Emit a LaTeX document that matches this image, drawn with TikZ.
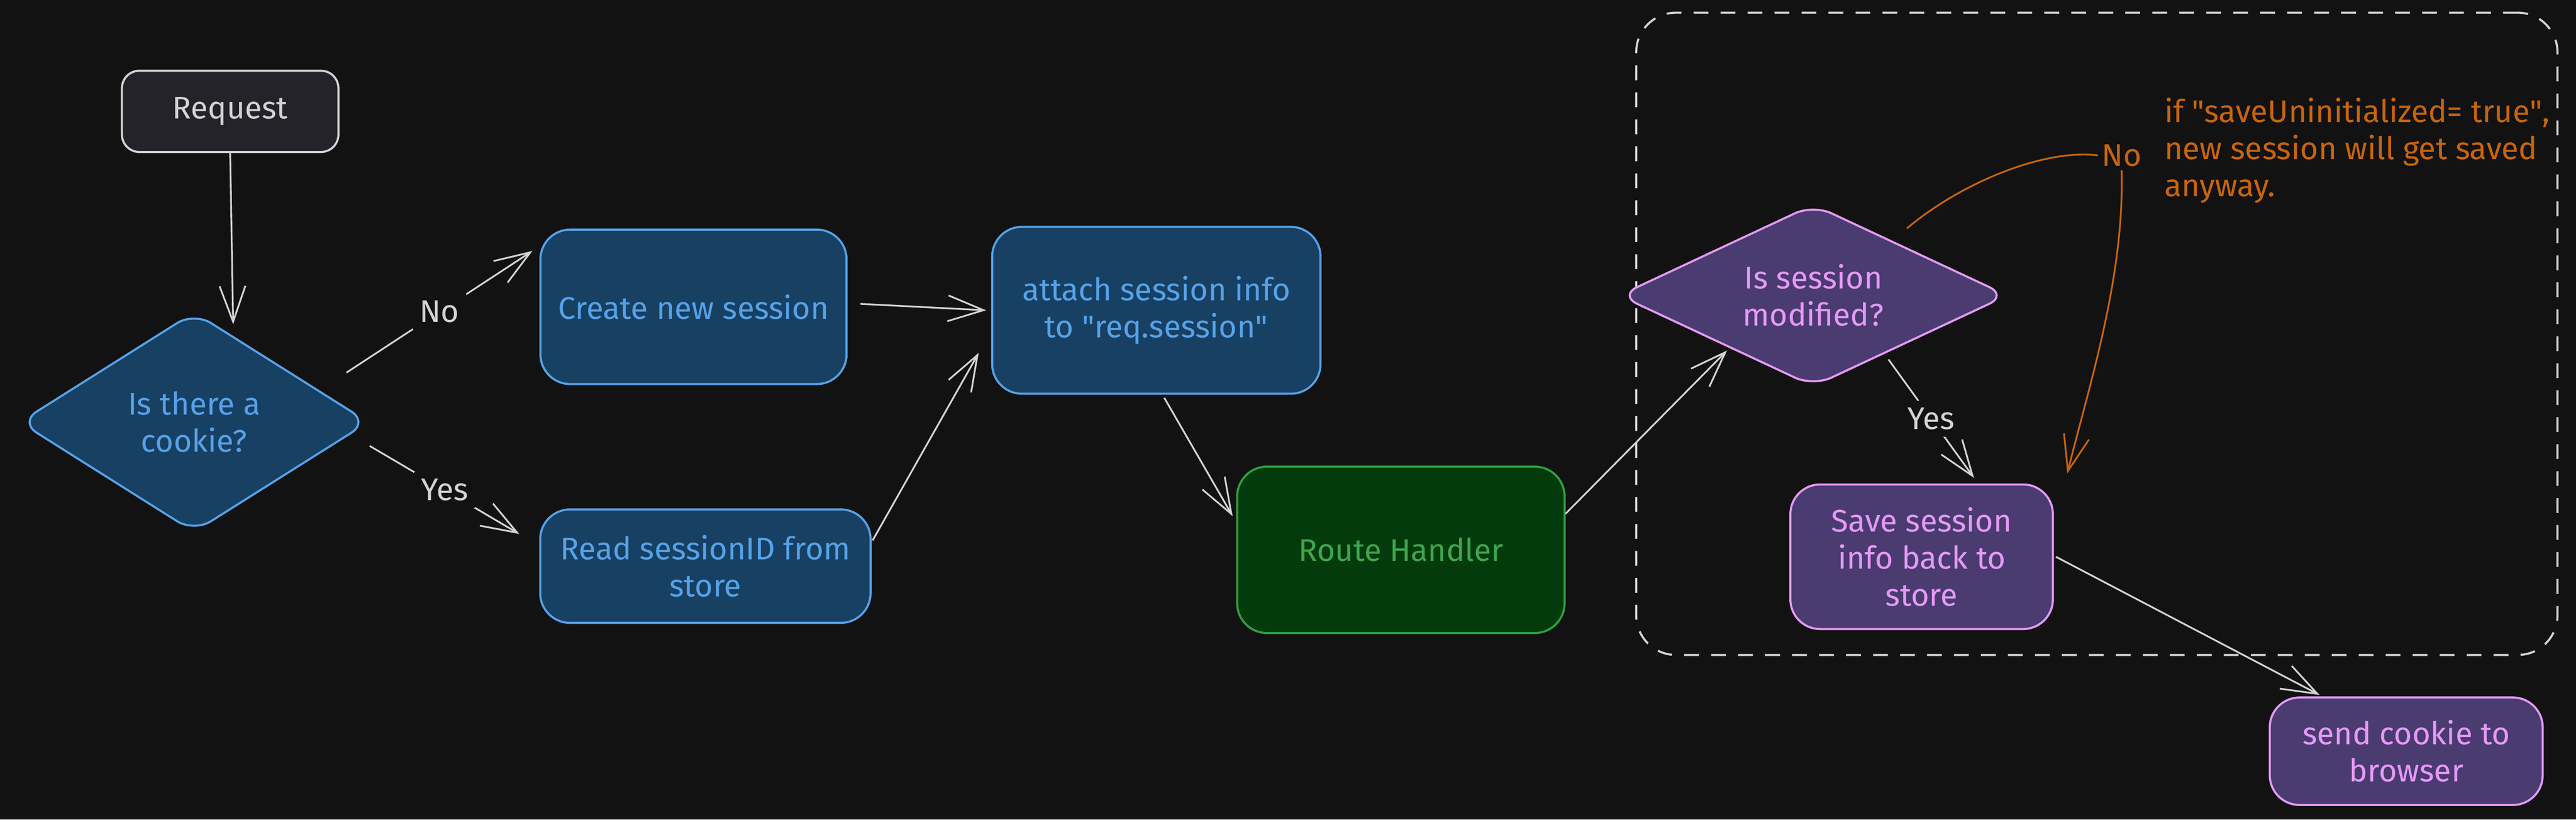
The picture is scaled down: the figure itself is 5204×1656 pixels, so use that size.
\documentclass[tikz,border=0pt]{standalone}
\usepackage{fontspec}
\setmainfont{Fira Sans}
\usetikzlibrary{arrows.meta,calc,shapes.geometric}
\definecolor{bgc}{HTML}{121212}
\definecolor{linec}{HTML}{D3D3D3}
\definecolor{reqfill}{HTML}{232329}
\definecolor{bluefill}{HTML}{174063}
\definecolor{bluec}{HTML}{56A2E8}
\definecolor{purfill}{HTML}{4A3B70}
\definecolor{purc}{HTML}{E599F7}
\definecolor{grnfill}{HTML}{043B0C}
\definecolor{grnc}{HTML}{2F9E44}
\definecolor{grntext}{HTML}{40A450}
\definecolor{orc}{HTML}{C8640A}
\tikzset{
  lbl/.style={font=\fontsize{18}{21.3}\selectfont, align=center},
  box/.style={draw, line width=1.2pt, rounded corners=0.6cm, inner sep=0pt, lbl},
  reqbox/.style={box, fill=reqfill, draw=linec, text=linec, rounded corners=0.35cm},
  bluebox/.style={box, fill=bluefill, draw=bluec, text=bluec},
  purbox/.style={box, fill=purfill, draw=purc, text=purc},
  grnbox/.style={box, fill=grnfill, draw=grnc, text=grntext},
  dia/.style={diamond, draw, line width=1.2pt, rounded corners=0.4cm, inner sep=0pt},
  arr/.style={draw=linec, line width=1pt, -{Straight Barb[length=0.72cm, width=0.52cm, line width=1pt]}},
  orarr/.style={draw=orc, line width=1pt, -{Straight Barb[length=0.72cm, width=0.52cm, line width=1pt]}},
  edgelbl/.style={lbl, text=linec, fill=bgc, inner sep=4pt},
  framebox/.style={draw=linec, line width=1.2pt, dash pattern=on 8.5pt off 7pt, rounded corners=0.8cm, inner sep=0pt},
}
\begin{document}
\begin{tikzpicture}[x=0.01cm, y=-0.01cm]
\fill[bgc] (0,0) rectangle (5204,1656);
\useasboundingbox (0,0) rectangle (5204,1656);

% dashed frame
\node[framebox, minimum width=18.6cm, minimum height=12.97cm] (frame) at (4236,674.5) {};

% nodes
\node[reqbox, minimum width=4.37cm, minimum height=1.64cm] (req) at (465,225) {Request};
\node[dia, fill=bluefill, draw=bluec, minimum width=7.05cm, minimum height=4.45cm] (d1) at (392,853) {};
\node[lbl, text=bluec] (d1t) at (d1.center) {Is there a\\cookie?};
\node[bluebox, minimum width=6.18cm, minimum height=3.12cm] (create) at (1401,620) {Create new session};
\node[bluebox, minimum width=6.67cm, minimum height=2.29cm] (read) at (1425,1144) {Read sessionID from\\store};
\node[bluebox, minimum width=6.63cm, minimum height=3.37cm] (attach) at (2336,627) {attach session info\\to \textquotedbl req.session\textquotedbl};
\node[grnbox, minimum width=6.61cm, minimum height=3.36cm] (route) at (2830,1111) {Route Handler};
\node[dia, fill=purfill, draw=purc, minimum width=7.85cm, minimum height=3.68cm] (d2) at (3663,597) {};
\node[lbl, text=purc] (d2t) at (d2.center) {Is session\\modified?};
\node[purbox, minimum width=5.3cm, minimum height=2.92cm] (save) at (3882,1125) {Save session\\info back to\\store};
\node[purbox, minimum width=5.51cm, minimum height=2.17cm] (send) at (4861,1518) {send cookie to\\browser};
\node[lbl, text=orc, align=left, anchor=north west] (note) at (4360,185) {if \textquotedbl saveUninitialized= true\textquotedbl,\\new session will get saved\\anyway.};

% connectors
\draw[arr] (req.south) -- ($(d1.north)+(79,27)$);
\draw[arr] ($(d1.east)+(-47,-100)$) -- node[edgelbl] (lno) {No} ($(create.west)+(-14,-113)$);
\draw[arr] ($(d1.east)+(0,48)$) -- node[edgelbl] (lyes) {Yes} ($(read.west)+(-40,-65)$);
\draw[arr] ($(create.east)+(26,-6)$) -- ($(attach.west)+(-10,0)$);
\draw[arr] ($(read.east)+(2,-52)$) -- ($(attach.west)+(-25,86)$);
\draw[arr] ($(attach.south)+(16,6)$) -- ($(route.west)+(-7,-68)$);
\draw[arr] ($(route.east)+(0,-73)$) -- ($(d2.south)+(-174,-75)$);
\draw[arr] ($(d2.south)+(152,-57)$) -- node[edgelbl] (lyes2) {Yes} ($(save.north)+(106,-11)$);
\draw[arr] ($(save.east)+(4,0)$) -- ($(send.north)+(-175,-3)$);

% orange annotation connector
\node[lbl, text=orc, inner sep=2pt] (ono) at (4286,314) {No};
\draw[orc, line width=1pt] ($(d2.north)+(189,51)$) .. controls (3960,370) and (4130,300) .. (ono.west);
\draw[orarr] (ono.south) .. controls (4292,560) and (4220,780) .. ($(save.north east)+(27,-20)$);
\end{tikzpicture}
\end{document}
